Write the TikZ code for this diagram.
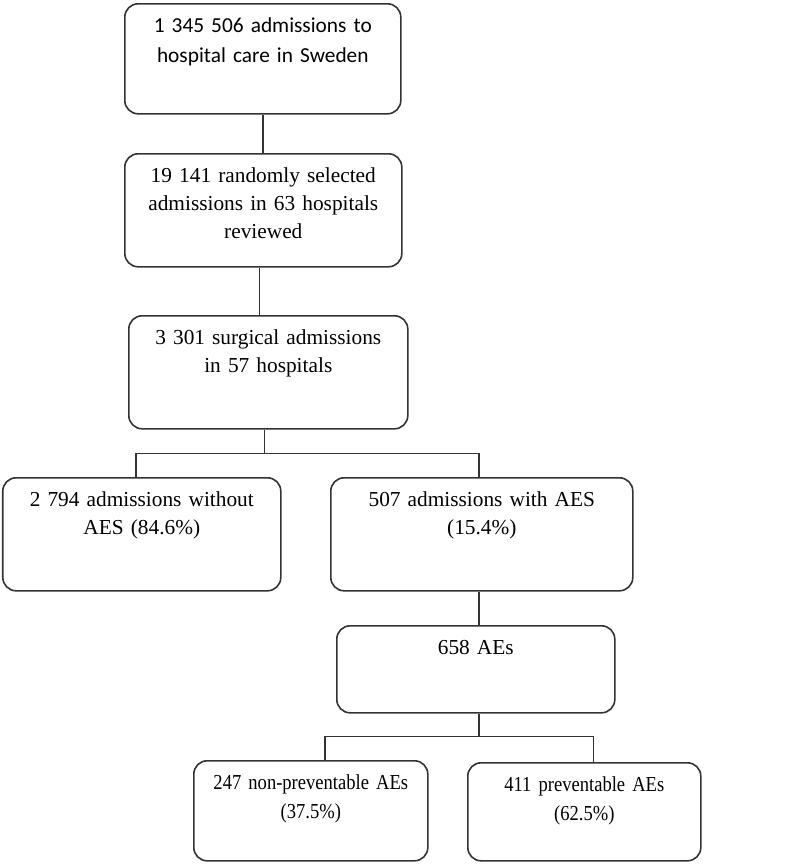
\documentclass[tikz,border=0pt]{standalone}
\usepackage{fontspec}
\setmainfont{Liberation Serif}
\newfontfamily\calfont{Carlito}
\newfontfamily\narrowfont[FakeStretch=0.87]{Liberation Serif}
\begin{document}
\begin{tikzpicture}[x=0.75pt,y=-0.75pt]
\tikzstyle{flow}=[draw=black!80, line width=1.2pt, rounded corners=10pt, anchor=north west, inner xsep=6pt, inner ysep=0pt, align=center, text height=21.75pt, font=\fontsize{16}{21}\selectfont]
\tikzstyle{small}=[font=\narrowfont\fontsize{16}{21.75}\selectfont]
\tikzstyle{link}=[draw=black!80, line width=1.2pt]
\useasboundingbox (0,0) rectangle (800,864);
\node[flow, text width=195pt, text depth=60.75pt, font=\calfont\fontsize{16}{22.5}\selectfont] (adm) at (124,3) {1 345 506 admissions to\\hospital care in Sweden};
\node[flow, text width=195.75pt, text depth=63pt] (rev) at (124,153) {19 141 randomly selected\\admissions in 63 hospitals\\reviewed};
\node[flow, text width=197.25pt, text depth=63pt] (surg) at (128,315) {3 301 surgical admissions\\in 57 hospitals};
\node[flow, text width=196.5pt, text depth=63pt] (without) at (2,477) {2 794 admissions without\\AES (84.6\%)};
\node[flow, text width=214.5pt, text depth=63pt] (with) at (330,477) {507 admissions with AES\\(15.4\%)};
\node[flow, text width=196.5pt, text depth=43.5pt] (ae) at (336,625) {658 AEs};
\node[flow, small, text width=163.5pt, text depth=53.25pt] (nonprev) at (193,760) {247 non-preventable AEs\\(37.5\%)};
\node[flow, small, text width=162.75pt, text depth=51.75pt] (prev) at (467,762) {411 preventable AEs\\(62.5\%)};
% connectors
\draw[link] (adm.south) -- (adm.south |- rev.north);
\draw[link] ([xshift=-3pt]rev.south) -- ([xshift=-3pt]rev.south |- surg.north);
\draw[link] ([xshift=-3pt]surg.south) -- ++(0,24) -| ([xshift=-4.5pt]without.north);
\draw[link] ([xshift=-3pt]surg.south) ++(0,24) -| ([xshift=-2.25pt]with.north);
\draw[link] ([xshift=-2.25pt]with.south) -- ([xshift=-2.25pt]with.south |- ae.north);
\draw[link] ([xshift=2.25pt]ae.south) -- ++(0,23) -| ([xshift=10.5pt]nonprev.north);
\draw[link] ([xshift=2.25pt]ae.south) ++(0,23) -| ([xshift=6.75pt]prev.north);
\end{tikzpicture}
\end{document}
